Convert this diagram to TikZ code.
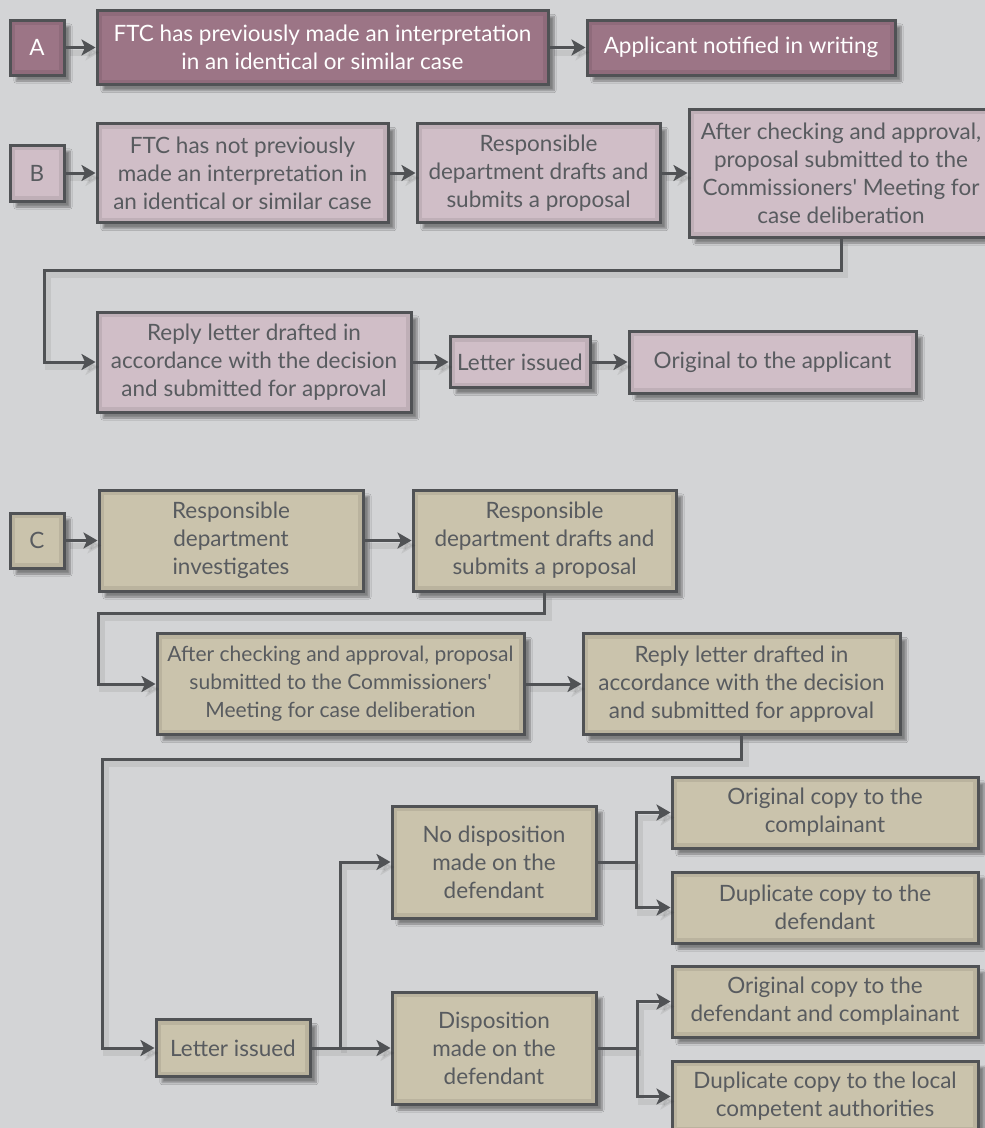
\documentclass[tikz,border=0pt]{standalone}
\usepackage{fontspec}
\setmainfont{Lato}
\usetikzlibrary{arrows.meta, shadows.blur}
\definecolor{bgGrey}{RGB}{211,212,214}
\definecolor{lineGrey}{RGB}{80,82,85}
\definecolor{txtGrey}{RGB}{88,91,95}
\definecolor{mauveA}{RGB}{156,117,134}
\definecolor{pinkB}{RGB}{208,190,199}
\definecolor{khakiC}{RGB}{202,195,172}

\begin{document}
\begin{tikzpicture}[x=1pt, y=-1pt,
    box/.style={draw=lineGrey, line width=3pt, text=txtGrey, align=center, inner sep=0pt,
        font=\fontsize{22.5}{28}\selectfont,
        blur shadow={shadow xshift=6pt, shadow yshift=-6pt, shadow blur steps=8, shadow opacity=40},
        path picture={\draw[black, opacity=.08, line width=10pt] (path picture bounding box.south west) rectangle (path picture bounding box.north east);}},
    boxA/.style={box, fill=mauveA, text=white},
    boxB/.style={box, fill=pinkB},
    boxC/.style={box, fill=khakiC},
    plain/.style={draw=lineGrey, line width=3pt,
        preaction={draw=black, opacity=.07, line width=6pt, transform canvas={shift={(4pt,-5pt)}}}},
    link/.style={plain, -{Stealth[length=14pt, width=16pt, inset=3.5pt]}}]
      \useasboundingbox (0,0) rectangle (985,1128);
      \clip (0,0) rectangle (985,1128);
      \fill[bgGrey] (0,0) rectangle (985,1128);

      % row A
      \node[boxA, minimum width=54pt, minimum height=55pt] (lblA) at (37,47.5) {A};
      \node[boxA, minimum width=451pt, minimum height=74pt] (ftcMade) at (322.5,47.5) {FTC has previously made an interpretation\\in an identical or similar case};
      \node[boxA, minimum width=308pt, minimum height=55pt] (notified) at (741,47.5) {Applicant notified in writing};

      % row B
      \node[boxB, minimum width=54pt, minimum height=56pt] (lblB) at (37,173) {B};
      \node[boxB, minimum width=291pt, minimum height=99pt] (ftcNot) at (242.5,173) {FTC has not previously\\made an interpretation in\\an identical or similar case};
      \node[boxB, minimum width=243pt, minimum height=99pt] (draftB) at (538.5,173) {Responsible\\department drafts and\\submits a proposal};
      \node[boxB, minimum width=304pt, minimum height=128pt] (meetB) at (841,173) {After checking and approval,\\proposal submitted to the\\Commissioners\textquotesingle{} Meeting for\\case deliberation};
      \node[boxB, minimum width=314pt, minimum height=100pt] (replyB) at (254,362) {Reply letter drafted in\\accordance with the decision\\and submitted for approval};
      \node[boxB, minimum width=140pt, minimum height=51pt] (issuedB) at (520,362) {Letter issued};
      \node[boxB, minimum width=287pt, minimum height=62pt] (originalB) at (772.5,362) {Original to the applicant};

      % row C
      \node[boxC, minimum width=54pt, minimum height=55pt] (lblC) at (37,540.5) {C};
      \node[boxC, minimum width=264pt, minimum height=101pt] (investC) at (231,540.5) {Responsible\\department\\investigates};
      \node[boxC, minimum width=263pt, minimum height=101pt] (draftC) at (544.5,540.5) {Responsible\\department drafts and\\submits a proposal};
      \node[boxC, minimum width=367pt, minimum height=101pt, font=\fontsize{21}{28}\selectfont] (meetC) at (340.5,684) {After checking and approval, proposal\\submitted to the Commissioners\textquotesingle\\Meeting for case deliberation};
      \node[boxC, minimum width=317pt, minimum height=101pt] (replyC) at (741.5,684) {Reply letter drafted in\\accordance with the decision\\and submitted for approval};
      \node[boxC, minimum width=154pt, minimum height=57pt] (issuedC) at (233,1048) {Letter issued};
      \node[boxC, minimum width=204pt, minimum height=112pt] (noDisp) at (494,862) {No disposition\\made on the\\defendant};
      \node[boxC, minimum width=204pt, minimum height=112pt] (disp) at (494,1048) {Disposition\\made on the\\defendant};
      \node[boxC, minimum width=306pt, minimum height=71pt] (origCompl) at (825,812.5) {Original copy to the\\complainant};
      \node[boxC, minimum width=306pt, minimum height=71pt] (dupDef) at (825,907.5) {Duplicate copy to the\\defendant};
      \node[boxC, minimum width=306pt, minimum height=71pt] (origBoth) at (825,1001.5) {Original copy to the\\defendant and complainant};
      \node[boxC, minimum width=306pt, minimum height=71pt] (dupLocal) at (825,1096.5) {Duplicate copy to the local\\competent authorities};

      \coordinate (bendB) at (44,270);
      \coordinate (bendC1) at (98,613);
      \coordinate (bendC2) at (102,759);
      \coordinate (forkL) at (340,1048);
      \coordinate (forkR1) at (636,862);
      \coordinate (forkR2) at (637,1048);

      \draw[link] (lblA) -- (ftcMade);
      \draw[link] (ftcMade) -- (notified);
      \draw[link] (lblB) -- (ftcNot);
      \draw[link] (ftcNot) -- (draftB);
      \draw[link] (draftB) -- (meetB);
      \draw[link] (meetB.south) |- (bendB) |- (replyB.west);
      \draw[link] (replyB) -- (issuedB);
      \draw[link] (issuedB) -- (originalB);

      \draw[link] (lblC) -- (investC);
      \draw[link] (investC) -- (draftC);
      \draw[link] (draftC.south) |- (bendC1) |- (meetC.west);
      \draw[link] (meetC) -- (replyC);
      \draw[link] (replyC.south) |- (bendC2) |- (issuedC.west);
      \draw[plain] (issuedC.east) -- (forkL);
      \draw[link] (forkL) |- (noDisp.west);
      \draw[link] (forkL) -- (disp.west);
      \draw[plain] (noDisp.east) -- (forkR1);
      \draw[link] (forkR1) |- (origCompl.west);
      \draw[link] (forkR1) |- (dupDef.west);
      \draw[plain] (disp.east) -- (forkR2);
      \draw[link] (forkR2) |- (origBoth.west);
      \draw[link] (forkR2) |- (dupLocal.west);
\end{tikzpicture}
\end{document}
